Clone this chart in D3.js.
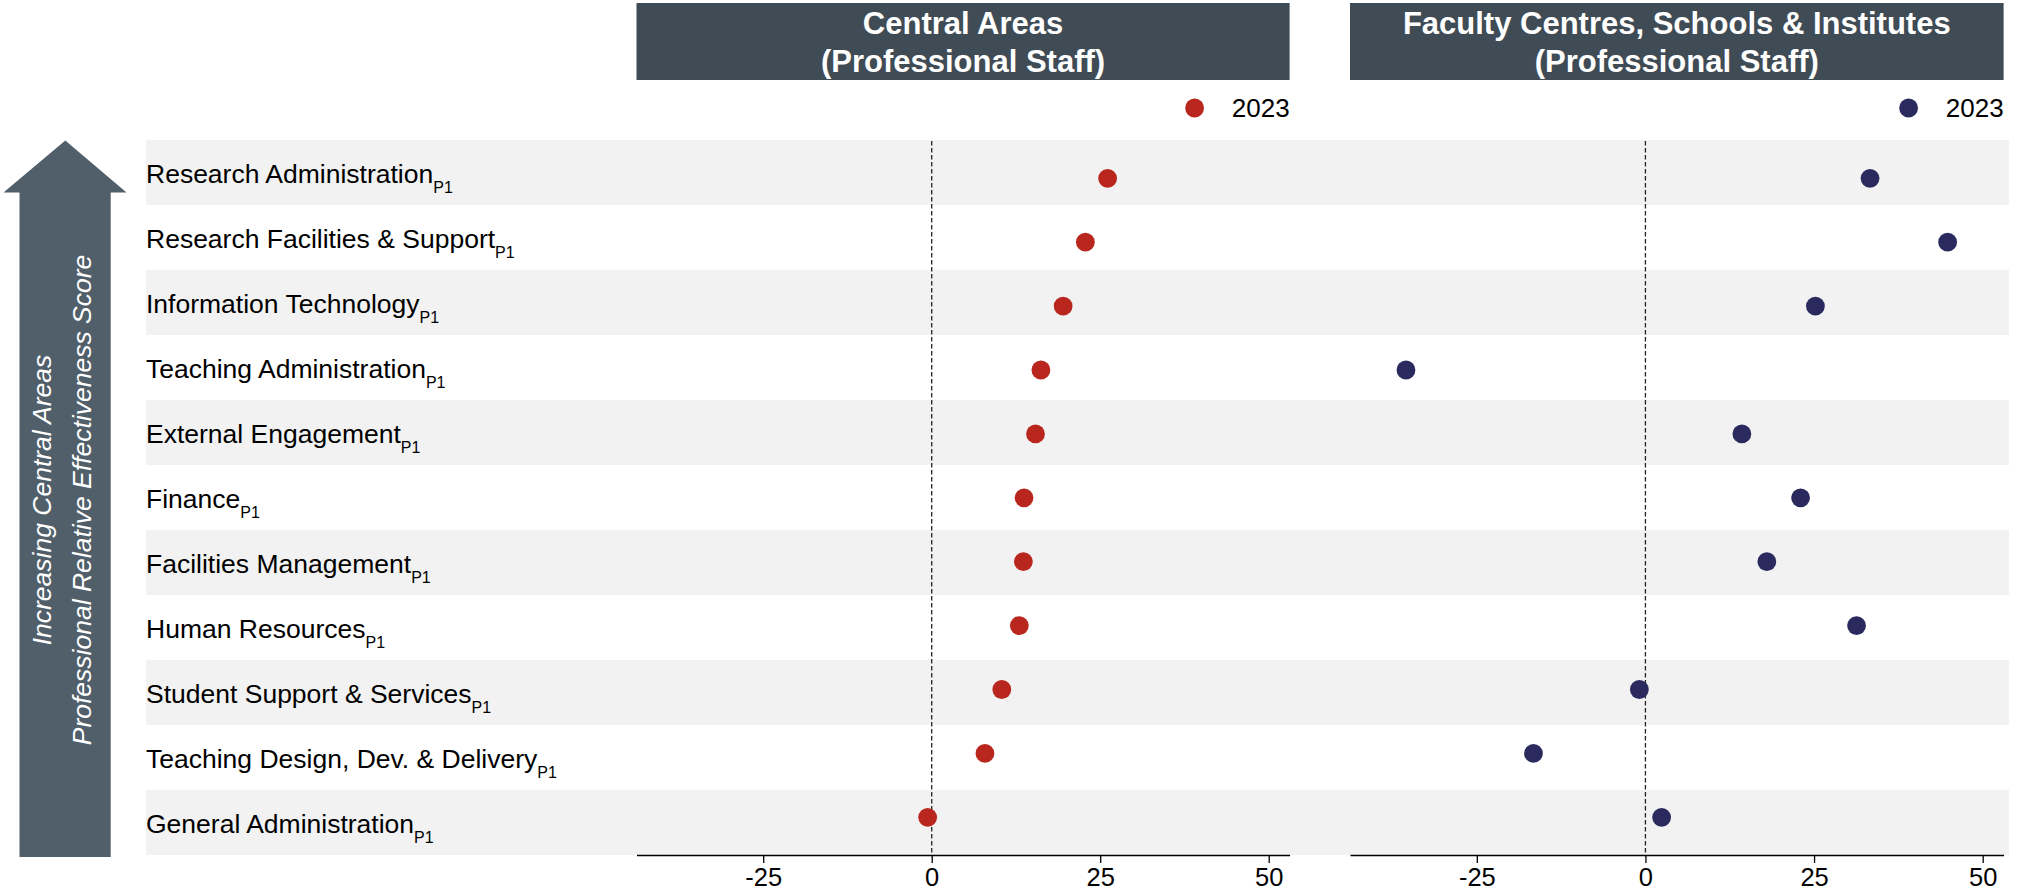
<!DOCTYPE html>
<html>
<head>
<meta charset="utf-8">
<script src="https://cdn.jsdelivr.net/npm/d3@7"></script>
<style>
  html, body { margin: 0; padding: 0; background: #ffffff; }
  svg { display: block; font-family: "Liberation Sans", Arial, sans-serif; }
</style>
</head>
<body>
<svg id="chart" width="2022" height="893"></svg>
<script>
// Service areas, ordered top to bottom
const categories = [
  "Research Administration",
  "Research Facilities & Support",
  "Information Technology",
  "Teaching Administration",
  "External Engagement",
  "Finance",
  "Facilities Management",
  "Human Resources",
  "Student Support & Services",
  "Teaching Design, Dev. & Delivery",
  "General Administration"
];

// 2023 relative effectiveness scores
const centralValues = [26.1, 22.8, 19.5, 16.2, 15.4, 13.7, 13.6, 13.0, 10.4, 7.9, -0.6];
const facultyValues = [33.3, 44.8, 25.2, -35.5, 14.3, 23.0, 18.0, 31.3, -0.9, -16.6, 2.4];

const panelTitles = [
  ["Central Areas", "(Professional Staff)"],
  ["Faculty Centres, Schools & Institutes", "(Professional Staff)"]
];
const legendLabel = "2023";
const labelSuffix = "P1";
const tickValues = [-25, 0, 25, 50];
const arrowLines = ["Increasing Central Areas", "Professional Relative Effectiveness Score"];

const svg = d3.select("#chart");

const COLORS = {
  central: "#b8261e",
  faculty: "#2a2a5f",
  band: "#f2f2f2",
  header: "#3f4b55",
  arrow: "#515f6b"
};

// Row geometry
const yBand = d3.scaleBand().domain(categories).range([140, 855]).paddingInner(0).paddingOuter(0);
const yDot = d3.scalePoint().domain(categories).range([178.3, 817.3]);

// Alternating background stripes
svg.append("g").selectAll("rect")
  .data(categories.filter((d, i) => i % 2 === 0))
  .join("rect")
  .attr("x", 146)
  .attr("width", 2009 - 146)
  .attr("y", d => yBand(d))
  .attr("height", yBand.bandwidth())
  .attr("fill", COLORS.band);

// Category labels with subscript
const labels = svg.append("g")
  .attr("font-size", 26.5)
  .attr("fill", "#000");
categories.forEach(c => {
  const t = labels.append("text")
    .attr("x", 146)
    .attr("y", yBand(c) + yBand.bandwidth() / 2 + 10.5);
  t.append("tspan").text(c);
  t.append("tspan").attr("font-size", 16).attr("dy", 10).text(labelSuffix);
});

// Upward arrow with rotated caption
const arrow = svg.append("g");
arrow.append("path")
  .attr("d", d3.line()([
    [19.5, 857], [19.5, 192.5], [3.5, 192.5], [65.3, 140.5],
    [126.5, 192.5], [110.7, 192.5], [110.7, 857]
  ]) + "Z")
  .attr("fill", COLORS.arrow);
const arrowText = arrow.append("text")
  .attr("transform", "translate(65,500) rotate(-90)")
  .attr("text-anchor", "middle")
  .attr("font-style", "italic")
  .attr("font-size", 26.5)
  .attr("fill", "#ffffff");
arrowText.append("tspan").attr("x", 0).attr("y", -14).text(arrowLines[0]);
arrowText.append("tspan").attr("x", 0).attr("y", 26).text(arrowLines[1]);

// Two panels sharing the same value domain
const panels = [
  { range: [636.5, 1289.6], values: centralValues, color: COLORS.central, title: panelTitles[0] },
  { range: [1350, 2003.6], values: facultyValues, color: COLORS.faculty, title: panelTitles[1] }
];

panels.forEach(p => {
  const x = d3.scaleLinear().domain([-43.8, 53.1]).range(p.range);
  const g = svg.append("g");

  // Header box
  g.append("rect")
    .attr("x", p.range[0])
    .attr("y", 3)
    .attr("width", p.range[1] - p.range[0])
    .attr("height", 77)
    .attr("fill", COLORS.header);
  const cx = (p.range[0] + p.range[1]) / 2;
  g.append("text")
    .attr("x", cx).attr("y", 33.5)
    .attr("text-anchor", "middle")
    .attr("font-weight", "bold").attr("font-size", 31)
    .attr("fill", "#fff")
    .text(p.title[0]);
  g.append("text")
    .attr("x", cx).attr("y", 72)
    .attr("text-anchor", "middle")
    .attr("font-weight", "bold").attr("font-size", 31)
    .attr("fill", "#fff")
    .text(p.title[1]);

  // Legend
  g.append("circle")
    .attr("cx", p.range[1] - 95)
    .attr("cy", 108)
    .attr("r", 9.4)
    .attr("fill", p.color);
  g.append("text")
    .attr("x", p.range[1])
    .attr("y", 116.5)
    .attr("text-anchor", "end")
    .attr("font-size", 26)
    .attr("fill", "#000")
    .text(legendLabel);

  // Zero reference line
  g.append("line")
    .attr("x1", x(0)).attr("x2", x(0))
    .attr("y1", 141).attr("y2", 855)
    .attr("stroke", "#222")
    .attr("stroke-width", 1.3)
    .attr("stroke-dasharray", "4.5,2.5");

  // Dots
  g.append("g").selectAll("circle")
    .data(categories.map((c, i) => ({ c, v: p.values[i] })))
    .join("circle")
    .attr("cx", d => x(d.v))
    .attr("cy", d => yDot(d.c))
    .attr("r", 9.4)
    .attr("fill", p.color);

  // Bottom axis
  const axis = g.append("g")
    .attr("transform", "translate(0,855)")
    .call(d3.axisBottom(x)
      .tickValues(tickValues)
      .tickFormat(d => String(d))
      .tickSize(8).tickPadding(5).tickSizeOuter(0));
  axis.select(".domain").attr("stroke", "#000").attr("stroke-width", 1.6);
  axis.selectAll(".tick line").attr("stroke", "#000").attr("stroke-width", 1.3);
  axis.selectAll(".tick text")
    .attr("font-family", "\"Liberation Sans\", Arial, sans-serif")
    .attr("font-size", 25.5)
    .attr("fill", "#000");
});
</script>
</body>
</html>
